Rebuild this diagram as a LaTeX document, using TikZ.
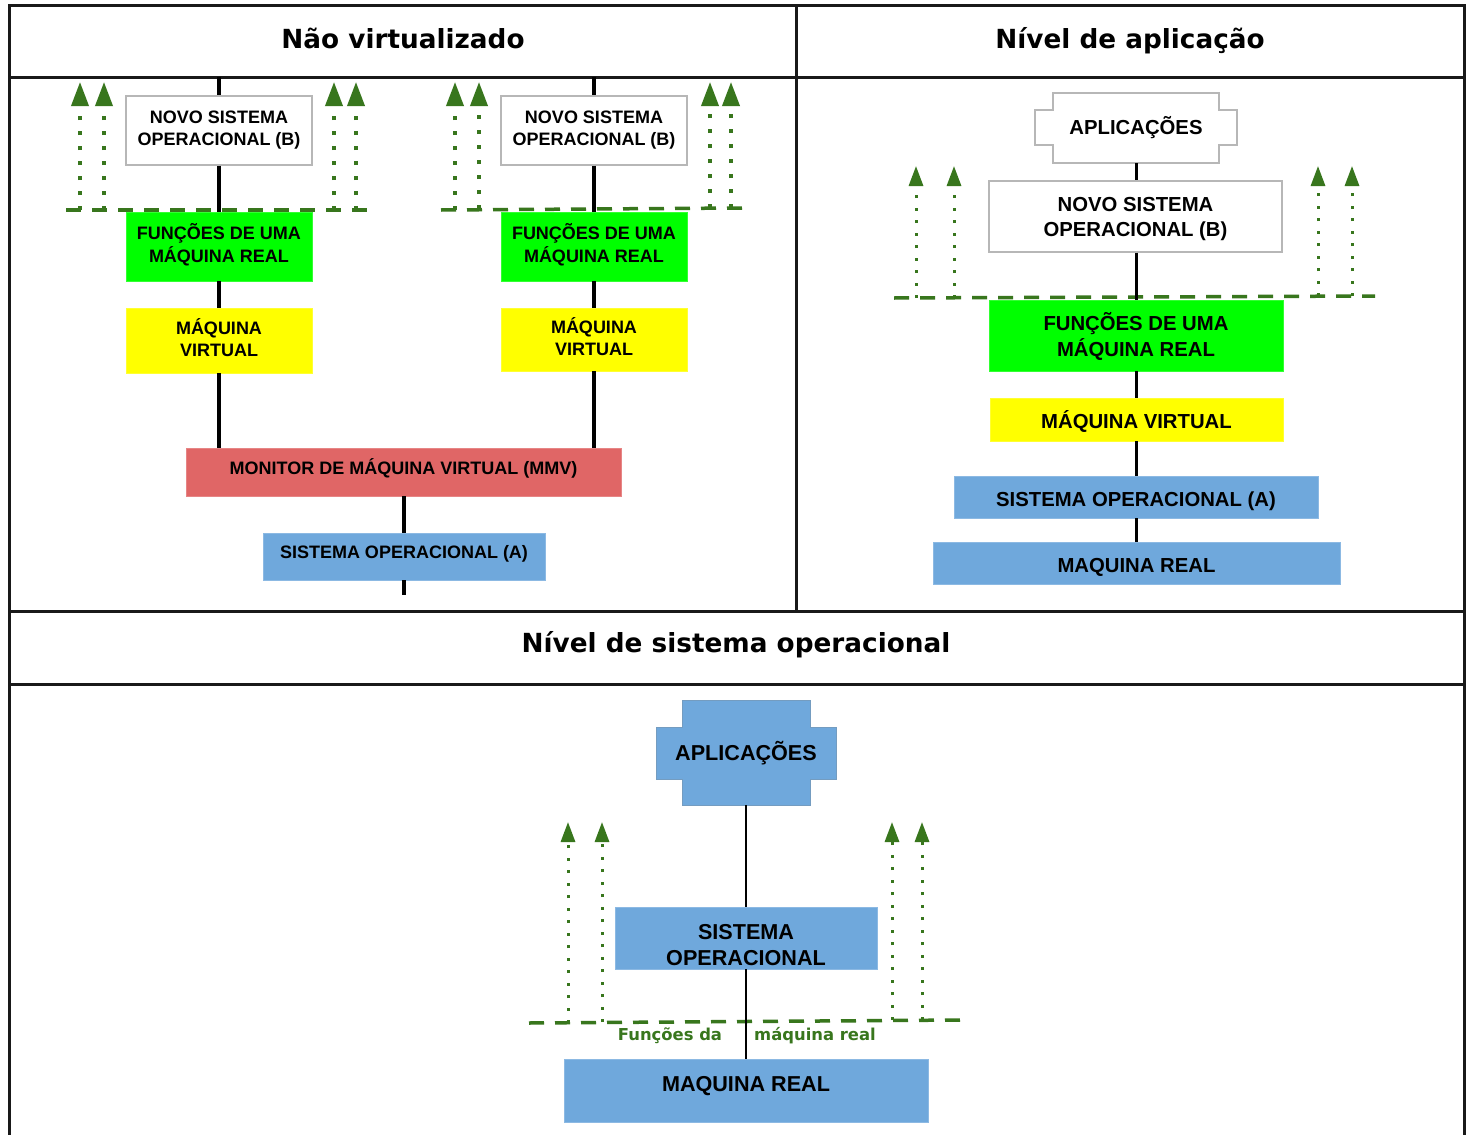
\documentclass[tikz,border=0pt]{standalone}
\usepackage{fontspec}
\setmainfont{Liberation Sans}
\newfontfamily\headfont{DejaVu Sans}
\usetikzlibrary{arrows.meta}
\definecolor{vmgreen}{HTML}{00FF00}
\definecolor{vmyellow}{HTML}{FFFF00}
\definecolor{vmred}{HTML}{E06666}
\definecolor{vmblue}{HTML}{6FA8DC}
\definecolor{leafgreen}{HTML}{38761D}
\definecolor{boxgray}{HTML}{B7B7B7}
% box text hung from its first baseline, which sits #1 above the box centre
\newcommand\boxtext[2][0pt]{\raisebox{#1}[0pt][0pt]{\begin{tabular}[t]{@{}c@{}}#2\end{tabular}}}
\begin{document}
\begin{tikzpicture}[x=1pt,y=-1pt,
  frame/.style={line width=3pt,draw=black!90},
  layer/.style={fill=#1,draw=#1!80!white,line width=0.8pt,inner sep=0pt},
  plain/.style={fill=white,draw=boxgray,line width=1.2pt,inner sep=0pt},
  fsA/.style={font=\bfseries\fontsize{18}{22}\selectfont},
  fsB/.style={font=\bfseries\fontsize{20.3}{25}\selectfont},
  fsC/.style={font=\bfseries\fontsize{21.6}{26.5}\selectfont},
  heading/.style={font=\headfont\bfseries\fontsize{26.3}{30}\selectfont,anchor=base},
  link/.style={draw=black,line width=#1},
  link/.default=3.5pt,
  boundary/.style={draw=leafgreen,line width=3.5pt,dash pattern=on 15pt off 11pt},
  liftarrow/.style={draw=leafgreen,line width=3.6pt,dash pattern=on 3.6pt off 11.4pt,
    -{Triangle[length=24pt,width=17pt,fill=leafgreen]}},
  liftarrowsm/.style={draw=leafgreen,line width=3pt,dash pattern=on 3pt off 9.5pt,
    -{Triangle[length=20pt,width=14pt,fill=leafgreen]}},
]
\useasboundingbox (0,0) rectangle (1468,1135);
\fill[white] (0,0) rectangle (1468,1135);

% ---------- frame and panel titles ----------
\draw[frame] (9,1135) -- (9,5) -- (1464,5) -- (1464,1135);
\draw[frame] (9,77) -- (1464,77);
\draw[frame] (9,611) -- (1464,611);
\draw[frame] (9,684) -- (1464,684);
\draw[frame] (796,5) -- (796,611);

\node[heading] (t1) at (403,48) {Não virtualizado};
\node[heading] (t2) at (1130,48) {Nível de aplicação};
\node[heading] (t3) at (736,652) {Nível de sistema operacional};

% ---------- left panel: hosted VMM ----------
\coordinate (top1) at (219,77);
\coordinate (top2) at (594,77);

% column 1
\draw[boundary] (66,210) -- (367,210);
\node[plain,fsA,minimum width=186pt,minimum height=69pt] (n1) at (219,130.5) {\boxtext[7.5pt]{NOVO SISTEMA\\OPERACIONAL (B)}};
\node[layer=vmgreen,fsA,minimum width=186pt,minimum height=69pt] (f1) at (219,246.5) {\boxtext[6.9pt]{FUNÇÕES DE UMA\\MÁQUINA REAL}};
\node[layer=vmyellow,fsA,minimum width=186pt,minimum height=65pt] (v1) at (219,340.5) {\boxtext[6.1pt]{MÁQUINA\\VIRTUAL}};

% column 2
\draw[boundary] (441,210) -- (742,208);
\node[plain,fsA,minimum width=186pt,minimum height=69pt] (n2) at (594,130.5) {\boxtext[7pt]{NOVO SISTEMA\\OPERACIONAL (B)}};
\node[layer=vmgreen,fsA,minimum width=186pt,minimum height=69pt] (f2) at (594,246.5) {\boxtext[6.9pt]{FUNÇÕES DE UMA\\MÁQUINA REAL}};
\node[layer=vmyellow,fsA,minimum width=186pt,minimum height=63pt] (v2) at (594,339.5) {\boxtext[5.6pt]{MÁQUINA\\VIRTUAL}};

\node[layer=vmred,fsA,minimum width=435pt,minimum height=48pt] (mmv) at (403.5,472) {\boxtext[-2.4pt]{MONITOR DE MÁQUINA VIRTUAL (MMV)}};
\node[layer=vmblue,fsA,minimum width=282pt,minimum height=47pt] (soa1) at (404,556.5) {\boxtext[-2.4pt]{SISTEMA OPERACIONAL (A)}};
\coordinate (end1) at (404,595);

\draw[link] (top1) -- (n1);
\draw[link] (n1) -- (f1);
\draw[link] (f1) -- (v1);
\draw[link] (v1) -- (v1 |- mmv.north);
\draw[link] (top2) -- (n2);
\draw[link] (n2) -- (f2);
\draw[link] (f2) -- (v2);
\draw[link] (v2) -- (v2 |- mmv.north);
\draw[link] (mmv.south -| soa1.north) -- (soa1);
\draw[link] (soa1) -- (end1);

\foreach \ax/\ay in {80/210,104/210,334/210,356/210,455/210,479/209,710/208,731/208} {
  \coordinate (lb\ax) at (\ax,\ay);
  \coordinate (lt\ax) at (\ax,82);
  \draw[liftarrow] (lb\ax) -- (lt\ax);
}

% ---------- right panel: application level ----------
\draw[plain] (1053,93) -- (1219,93) -- (1219,110) -- (1237,110) -- (1237,145) -- (1219,145)
  -- (1219,163) -- (1053,163) -- (1053,145) -- (1035,145) -- (1035,110) -- (1053,110) -- cycle;
\node[fsB,inner sep=0pt,minimum width=166pt,minimum height=70pt] (app2) at (1136,128) {\boxtext[-6.8pt]{APLICAÇÕES}};

\draw[boundary] (894,298) -- (1375,296);
\node[plain,fsB,minimum width=293pt,minimum height=71pt] (n3) at (1135.5,216.5) {\boxtext[4.7pt]{NOVO SISTEMA\\OPERACIONAL (B)}};
\node[layer=vmgreen,fsB,minimum width=294pt,minimum height=71pt] (f3) at (1136,335.5) {\boxtext[4.9pt]{FUNÇÕES DE UMA\\MÁQUINA REAL}};
\node[layer=vmyellow,fsB,minimum width=293pt,minimum height=43pt] (v3) at (1136.5,419.5) {\boxtext[-8.8pt]{MÁQUINA VIRTUAL}};
\node[layer=vmblue,fsB,minimum width=364pt,minimum height=42pt] (soa3) at (1136,497) {\boxtext[-9.3pt]{SISTEMA OPERACIONAL (A)}};
\node[layer=vmblue,fsB,minimum width=407pt,minimum height=42pt] (mr3) at (1136.5,563) {\boxtext[-9.3pt]{MAQUINA REAL}};

\draw[link=3pt] (app2.south) -- (app2.south |- n3.north);
\draw[link=3pt] (n3.south -| app2.south) -- (f3.north -| app2.south);
\draw[link=3pt] (f3.south -| app2.south) -- (v3.north -| app2.south);
\draw[link=3pt] (v3.south -| app2.south) -- (soa3.north -| app2.south);
\draw[link=3pt] (soa3.south -| app2.south) -- (mr3.north -| app2.south);

\foreach \ax/\ay in {916/298,954/298,1318/296,1352/296} {
  \coordinate (rb\ax) at (\ax,\ay);
  \coordinate (rt\ax) at (\ax,166);
  \draw[liftarrowsm] (rb\ax) -- (rt\ax);
}

% ---------- bottom panel: operating system level ----------
\draw[fill=vmblue,draw=vmblue!70!gray,line width=1pt] (682,700) -- (810,700) -- (810,727) -- (836,727) -- (836,779) -- (810,779)
  -- (810,805) -- (682,805) -- (682,779) -- (656,779) -- (656,727) -- (682,727) -- cycle;
\node[fsC,inner sep=0pt,minimum width=128pt,minimum height=105pt] (app4) at (746,752.5) {\boxtext[-8.2pt]{APLICAÇÕES}};

\node[layer=vmblue,fsC,minimum width=262pt,minimum height=62pt] (so4) at (746,938) {\boxtext[-1pt]{SISTEMA\\OPERACIONAL}};
\draw[boundary] (529,1023) -- (963,1020);
\node[layer=vmblue,fsC,minimum width=364pt,minimum height=63pt] (mr4) at (746,1090.5) {\boxtext[-1.2pt]{MAQUINA REAL}};

\draw[link=2.2pt] (app4) -- (so4);
\draw[link=2.2pt] (so4) -- (mr4);

\node[font=\headfont\bfseries\fontsize{16.4}{20}\selectfont,text=leafgreen,anchor=base] (lblA) at (670,1040) {Funções da};
\node[font=\headfont\bfseries\fontsize{16.4}{20}\selectfont,text=leafgreen,anchor=base] (lblB) at (815,1040) {máquina real};

\foreach \ax/\ay in {568/1023,602/1022,892/1020,922/1020} {
  \coordinate (bb\ax) at (\ax,\ay);
  \coordinate (bt\ax) at (\ax,822);
  \draw[liftarrowsm] (bb\ax) -- (bt\ax);
}
\end{tikzpicture}
\end{document}
